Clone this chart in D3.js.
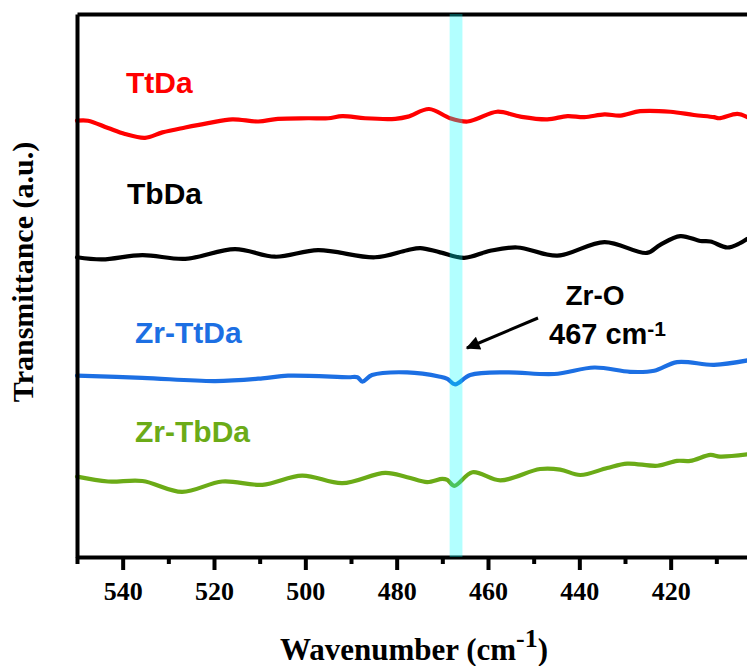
<!DOCTYPE html>
<html>
<head>
<meta charset="utf-8">
<script src="https://cdn.jsdelivr.net/npm/d3@7"></script>
<style>
  html, body { margin: 0; padding: 0; background: #fff; }
  svg { display: block; }
</style>
</head>
<body>
<svg id="chart" width="747" height="666"></svg>
<script>
// FTIR transmittance traces (stacked, arbitrary units), low-wavenumber region
const ttdaWn = [550, 547.6, 543.2, 539.5, 535.1, 531.3, 526.3, 521.3, 516.0, 510.3, 506.0, 499.4, 495.0, 491.9, 486.9, 480.3, 477.5, 472.9, 468.3, 464.5, 462.4, 458.0, 452.9, 447.0, 442.6, 438.9, 434.5, 431.0, 426.7, 420.1, 414.9, 410.5, 409.4, 405.4, 403.2];
const ttdaT  = [80.35, 80.35, 79.0, 77.9, 77.2, 78.2, 79.1, 79.9, 80.6, 80.2, 80.7, 80.8, 80.8, 81.2, 80.8, 80.7, 81.1, 82.5, 80.8, 80.2, 80.7, 82.0, 81.1, 80.6, 81.2, 81.0, 81.5, 81.3, 82.1, 82.0, 81.4, 81.0, 80.8, 81.6, 81.0];

const tbdaWn = [550, 544.5, 535.7, 526.3, 515.4, 506.6, 497.2, 484.7, 477.7, 474.8, 470.5, 465.2, 459.5, 453.6, 444.8, 434.5, 425.2, 422.3, 417.9, 413.5, 411.3, 407.6, 404.8, 403.2];
const tbdaT  = [55.2, 54.8, 55.6, 54.9, 56.7, 55.3, 56.5, 55.2, 56.5, 56.9, 56.1, 55.1, 56.4, 57.0, 55.5, 58.0, 56.0, 57.5, 59.1, 58.2, 58.1, 57.0, 57.8, 58.6];

const zrTtdaWn = [550, 535.7, 519.7, 509.4, 503.8, 490.6, 488.6, 487.5, 485.4, 477.7, 470.5, 468.9, 467.2, 463.9, 455.8, 445.5, 436.7, 428.9, 423.6, 418.6, 410.5, 403.2];
const zrTtdaT  = [33.4, 33.0, 32.4, 32.9, 33.4, 33.1, 33.1, 32.3, 33.5, 34.0, 33.2, 32.8, 31.8, 33.5, 34.0, 33.7, 34.9, 34.1, 34.3, 35.9, 35.4, 36.2];

const zrTbdaWn = [550, 543.2, 535.7, 527.0, 518.2, 509.4, 500.7, 491.9, 482.5, 477.7, 473.3, 470.0, 468.9, 467.4, 463.4, 457.3, 448.6, 444.2, 439.8, 433.9, 429.5, 422.9, 418.6, 415.7, 411.3, 409.2, 403.2];
const zrTbdaT  = [14.8, 13.9, 14.0, 12.0, 13.9, 13.3, 15.0, 13.6, 15.5, 14.7, 13.8, 14.4, 14.2, 13.1, 15.6, 14.1, 16.2, 16.1, 15.1, 16.4, 17.2, 16.8, 17.7, 17.7, 18.8, 18.5, 18.9];

const seriesNames  = ["TtDa", "TbDa", "Zr-TtDa", "Zr-TbDa"];
const seriesColors = ["#ff0000", "#000000", "#1c6fe3", "#6bab17"];

const majorTicks = [540, 520, 500, 480, 460, 440, 420];
const minorTicks = [550, 530, 510, 490, 470, 450, 430, 410];

const bandCenter = 467;     // Zr-O stretching band
const bandHalfWidth = 1.4;

const svg = d3.select("#chart");
const plotLeft = 77, plotRight = 762, plotTop = 14, plotBottom = 557;

const x = d3.scaleLinear().domain([550, 400]).range([plotLeft, plotRight]);
const y = d3.scaleLinear().domain([0, 100]).range([plotBottom, plotTop]);

const serifFont = "'Liberation Serif', 'Times New Roman', Times, serif";
const sansFont = "'Liberation Sans', Arial, Helvetica, sans-serif";

// traces
const series = [
  { wn: ttdaWn, t: ttdaT },
  { wn: tbdaWn, t: tbdaT },
  { wn: zrTtdaWn, t: zrTtdaT },
  { wn: zrTbdaWn, t: zrTbdaT }
];
const line = d3.line()
  .x(d => x(d[0]))
  .y(d => y(d[1]))
  .curve(d3.curveCatmullRom.alpha(0.5));

series.forEach((s, i) => {
  svg.append("path")
    .datum(s.wn.map((w, j) => [w, s.t[j]]))
    .attr("fill", "none")
    .attr("stroke", seriesColors[i])
    .attr("stroke-width", 4.2)
    .attr("stroke-linejoin", "round")
    .attr("stroke-linecap", "round")
    .attr("d", line);
});

// frame: left and top axis lines
svg.append("g")
  .attr("transform", `translate(${plotLeft},0)`)
  .call(d3.axisLeft(y).tickValues([]).tickSizeOuter(0))
  .call(g => g.select(".domain").attr("stroke", "#000").attr("stroke-width", 4));
svg.append("g")
  .attr("transform", `translate(0,${plotTop})`)
  .call(d3.axisTop(x).tickValues([]).tickSizeOuter(0))
  .call(g => g.select(".domain").attr("stroke", "#000").attr("stroke-width", 4));

// bottom axis: minor ticks then labelled major ticks
svg.append("g")
  .attr("transform", `translate(0,${plotBottom})`)
  .call(d3.axisBottom(x).tickValues(minorTicks).tickSize(7).tickSizeOuter(0).tickFormat(""))
  .call(g => g.select(".domain").remove())
  .call(g => g.selectAll(".tick line").attr("stroke", "#000").attr("stroke-width", 4));

svg.append("g")
  .attr("transform", `translate(0,${plotBottom})`)
  .call(d3.axisBottom(x).tickValues(majorTicks).tickSize(13).tickSizeOuter(0).tickFormat(d3.format("d")))
  .call(g => g.select(".domain").attr("stroke", "#000").attr("stroke-width", 4))
  .call(g => g.selectAll(".tick line").attr("stroke", "#000").attr("stroke-width", 4))
  .call(g => g.selectAll(".tick text")
    .attr("y", 43).attr("dy", 0)
    .attr("fill", "#000")
    .style("font-family", serifFont)
    .style("font-weight", "bold")
    .style("font-size", "26px"));

// highlighted Zr-O band
svg.append("rect")
  .attr("x", x(bandCenter + bandHalfWidth))
  .attr("y", plotTop)
  .attr("width", x(bandCenter - bandHalfWidth) - x(bandCenter + bandHalfWidth))
  .attr("height", plotBottom - plotTop)
  .attr("fill", "#00ffff")
  .attr("fill-opacity", 0.3);

// series labels
const labelPos = [[126, 93], [127, 204], [135, 343], [135, 442]];
seriesNames.forEach((name, i) => {
  svg.append("text")
    .attr("x", labelPos[i][0]).attr("y", labelPos[i][1])
    .attr("fill", seriesColors[i])
    .style("font-family", sansFont)
    .style("font-weight", "bold")
    .style("font-size", "30px")
    .text(name);
});

// annotation
svg.append("defs").append("marker")
  .attr("id", "arrowHead")
  .attr("viewBox", "0 0 10 10")
  .attr("refX", 9).attr("refY", 5)
  .attr("markerUnits", "userSpaceOnUse")
  .attr("markerWidth", 18).attr("markerHeight", 14)
  .attr("orient", "auto")
  .append("path").attr("d", "M0,0 L10,5 L0,10 Z").attr("fill", "#000");

svg.append("line")
  .attr("x1", 538).attr("y1", 318)
  .attr("x2", 467).attr("y2", 348)
  .attr("stroke", "#000").attr("stroke-width", 3)
  .attr("marker-end", "url(#arrowHead)");

svg.append("text")
  .attr("x", 595).attr("y", 305)
  .attr("text-anchor", "middle")
  .style("font-family", sansFont).style("font-weight", "bold").style("font-size", "28px")
  .text("Zr-O");

const peakLabel = svg.append("text")
  .attr("x", 549).attr("y", 344)
  .style("font-family", sansFont).style("font-weight", "bold").style("font-size", "29px");
peakLabel.append("tspan").text(`${bandCenter} cm`);
peakLabel.append("tspan").attr("dy", -8).style("font-size", "21px").text("-1");

// axis titles
const xTitle = svg.append("text")
  .attr("x", 414).attr("y", 660)
  .attr("text-anchor", "middle")
  .style("font-family", serifFont).style("font-weight", "bold").style("font-size", "31px");
xTitle.append("tspan").text("Wavenumber (cm");
xTitle.append("tspan").attr("dy", -13).style("font-size", "26px").text("-1");
xTitle.append("tspan").attr("dy", 13).text(")");

svg.append("text")
  .attr("transform", "translate(33,272) rotate(-90)")
  .attr("text-anchor", "middle")
  .style("font-family", serifFont).style("font-weight", "bold").style("font-size", "30px")
  .text("Transmittance (a.u.)");
</script>
</body>
</html>
